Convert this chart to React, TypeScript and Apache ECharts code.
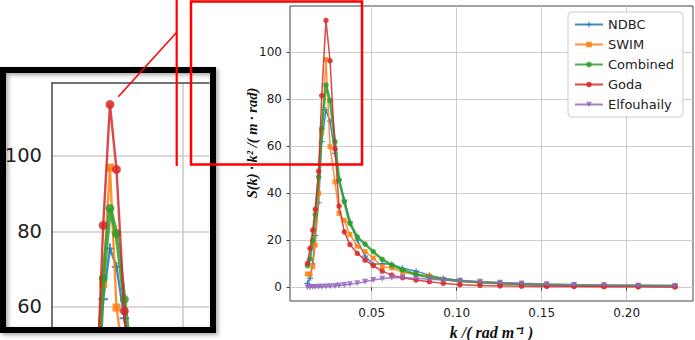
import React, { useEffect, useRef } from "react";
import * as echarts from "echarts";

// wavenumber bins k (rad/m)
const K = [0.0122, 0.0137, 0.0153, 0.0168, 0.0188, 0.0206, 0.0231, 0.0255, 0.0284, 0.0308,
  0.0339, 0.0372, 0.0415, 0.0461, 0.0509, 0.0562, 0.0618, 0.0682, 0.0761, 0.0839,
  0.0921, 0.1019, 0.1137, 0.1255, 0.1382, 0.1529, 0.1690, 0.1866, 0.2068, 0.2284];

const NDBC = [1.7, 3.8, 10, 22, 36, 62, 75.5, 70.6, 57, 45.7, 37.1, 27.9, 20.1, 13.3, 9.8,
  10.0, 9.8, 8.1, 6.9, 5.2, 3.8, 2.9, 2.1, 1.6, 1.2, 0.9, 0.7, 0.6, 0.5, 0.4];
const SWIM = [5.7, 5.5, 8.8, 18, 40, 66, 96.9, 59.8, 44.9, 31.5, 28.5, 22.5, 17.5, 15.2, 12.5,
  8.8, 8.3, 6.4, 5.5, 4.8, 3.4, 2.4, 2.0, 1.6, 1.3, 1.0, 0.8, 0.6, 0.5, 0.4];
const COMBINED = [9.2, 12, 20, 31, 47, 67.5, 86.1, 79.4, 62, 45.7, 36.4, 27.2, 21.5, 18.4, 15.2,
  11.9, 9.5, 7.4, 5.5, 4.3, 3.4, 2.8, 2.2, 1.8, 1.5, 1.2, 1.0, 0.9, 0.8, 0.7];
const GODA = [10.2, 16.6, 24.4, 33.2, 49.4, 81.6, 113.6, 96.4, 58.9, 34.6, 23.6, 18.2, 14.5, 11.6, 9.2,
  6.9, 5.2, 4.1, 3.1, 2.4, 1.7, 1.1, 0.8, 0.6, 0.5, 0.4, 0.35, 0.3, 0.25, 0.2];
const ELFOUHAILY = [0.1, 0.1, 0.15, 0.2, 0.25, 0.3, 0.4, 0.5, 0.6, 0.75, 1.0, 1.3, 1.7, 2.4, 3.1,
  3.7, 4.1, 4.2, 3.9, 3.5, 3.1, 2.8, 2.4, 2.0, 1.6, 1.3, 1.0, 0.85, 0.7, 0.55];

const SERIES_NAMES = ["NDBC", "SWIM", "Combined", "Goda", "Elfouhaily"];
const X_TICKS = [0.05, 0.1, 0.15, 0.2];
const Y_TICKS = [0, 20, 40, 60, 80, 100];
const INSET_X_TICKS = [0.05];
const INSET_Y_TICKS = [60, 80, 100];

const COLORS = ["#1f77b4", "#ff7f0e", "#2ca02c", "#d62728", "#9467bd"];
const SYMBOLS = [
  "path://M4 0H6V4H10V6H6V10H4V6H0V4H4Z",
  "rect",
  "circle",
  "circle",
  "path://M0 0H10L5 9Z",
];
const SYM_SIZE = [6, 5, 5.5, 5.5, 6];
const LINE_W = [1.5, 1.5, 2.6, 1.5, 1.5];
const VALUES = [NDBC, SWIM, COMBINED, GODA, ELFOUHAILY];

export default function App() {
  const ref = useRef<HTMLDivElement>(null);
  useEffect(() => {
    if (!ref.current) return;
    const chart = echarts.init(ref.current, null, { renderer: "svg" });

    const mkSeries = (inset: boolean) =>
      SERIES_NAMES.map((name, i) => {
        const s = inset ? 1.6 : 1;
        return {
          name,
          type: "line",
          xAxisIndex: inset ? 1 : 0,
          yAxisIndex: inset ? 1 : 0,
          data: K.map((k, j) => [k, VALUES[i][j]]),
          symbol: SYMBOLS[i],
          symbolSize: SYM_SIZE[i] * s,
          showSymbol: true,
          clip: true,
          lineStyle: { color: COLORS[i], width: LINE_W[i] * s, opacity: 0.85 },
          itemStyle: { color: COLORS[i], opacity: 0.85 },
          emphasis: { disabled: true },
          z: 2 + i,
        };
      });

    const tickFont = { fontFamily: "DejaVu Sans", color: "#222" };

    chart.setOption({
      animation: false,
      legend: {
        data: SERIES_NAMES,
        orient: "vertical",
        left: 568,
        top: 12,
        padding: [5, 9, 5, 6],
        itemWidth: 28,
        itemHeight: 7,
        itemGap: 5,
        backgroundColor: "rgba(255,255,255,0.85)",
        borderColor: "#cccccc",
        borderWidth: 1,
        borderRadius: 4,
        textStyle: { fontFamily: "DejaVu Sans", fontSize: 13, color: "#222", lineHeight: 15 },
      },
      grid: [
        { left: 290, top: 6, width: 403, height: 295, show: true, borderColor: "#444", borderWidth: 1, backgroundColor: "transparent", outerBoundsMode: "none", containLabel: false },
        { left: 52, top: 83, width: 157, height: 245, show: false, outerBoundsMode: "none", containLabel: false },
      ],
      xAxis: [
        {
          type: "value",
          gridIndex: 0,
          min: 0.00194,
          max: 0.239,
          axisLine: { show: false },
          axisTick: { show: true, length: 3.5, customValues: X_TICKS, lineStyle: { color: "#444" } },
          axisLabel: { customValues: X_TICKS, formatter: (v: number) => v.toFixed(2), fontSize: 12, margin: 6, ...tickFont },
          splitLine: { show: true, lineStyle: { color: "#cccccc", width: 1 } },
          name: "k /( rad m\u207B\u00B9 )",
          nameLocation: "middle",
          nameGap: 16,
          nameTextStyle: { fontFamily: "Liberation Serif", fontStyle: "italic", fontWeight: "bold", fontSize: 16, lineHeight: 18, color: "#111" },
        },
        {
          type: "value",
          gridIndex: 1,
          position: "top",
          min: 0.00173,
          max: 0.0596,
          axisLine: { show: true, lineStyle: { color: "#444", width: 1.5 } },
          axisTick: { show: false, customValues: INSET_X_TICKS },
          axisLabel: { show: false, customValues: INSET_X_TICKS },
          splitLine: { show: true, lineStyle: { color: "#cccccc", width: 1.6 } },
        },
      ],
      yAxis: [
        {
          type: "value",
          gridIndex: 0,
          min: -5.8,
          max: 119.7,
          axisLine: { show: false },
          axisTick: { show: true, length: 3.5, customValues: Y_TICKS, lineStyle: { color: "#444" } },
          axisLabel: { customValues: Y_TICKS, fontSize: 12, margin: 8, ...tickFont },
          splitLine: { show: true, lineStyle: { color: "#cccccc", width: 1 } },
        },
        {
          type: "value",
          gridIndex: 1,
          min: 54.4,
          max: 119.3,
          axisLine: { show: true, lineStyle: { color: "#444", width: 1.5 } },
          axisTick: { show: false, customValues: INSET_Y_TICKS },
          axisLabel: { customValues: INSET_Y_TICKS, fontSize: 19.5, margin: 10, ...tickFont },
          splitLine: { show: true, lineStyle: { color: "#cccccc", width: 1.6 } },
        },
      ],
      series: [...mkSeries(false), ...mkSeries(true)],
      graphic: [
        {
          type: "text",
          x: 252,
          y: 143,
          rotation: Math.PI / 2,
          z: 50,
          style: {
            text: "S(k) \u00B7 k\u00B2 /( m \u00B7 rad)",
            fontFamily: "Liberation Serif",
            fontStyle: "italic",
            fontWeight: "bold",
            fontSize: 14.5,
            fill: "#111",
            align: "center",
            verticalAlign: "middle",
          },
        },
        {
          type: "rect",
          z: 100,
          shape: { x: 3, y: 70, width: 210, height: 260 },
          style: {
            fill: "none",
            stroke: "#000",
            lineWidth: 6,
            shadowBlur: 4,
            shadowColor: "rgba(0,0,0,0.35)",
            shadowOffsetX: 2,
            shadowOffsetY: 2,
          },
        },
        {
          type: "rect",
          z: 101,
          shape: { x: 191, y: 1.5, width: 171, height: 163 },
          style: { fill: "none", stroke: "#ff0000", lineWidth: 2.5 },
        },
        {
          type: "line",
          z: 101,
          shape: { x1: 176.7, y1: 0, x2: 176.7, y2: 166 },
          style: { stroke: "#ff0000", lineWidth: 2.2 },
        },
        {
          type: "line",
          z: 101,
          shape: { x1: 176.7, y1: 32.3, x2: 118.3, y2: 96.7 },
          style: { stroke: "#ff0000", lineWidth: 1.5 },
        },
      ],
    });

    return () => chart.dispose();
  }, []);

  return (
    <div
      ref={ref}
      style={{ position: "absolute", left: 0, top: 0, width: 695, height: 340, background: "#fff" }}
    />
  );
}
